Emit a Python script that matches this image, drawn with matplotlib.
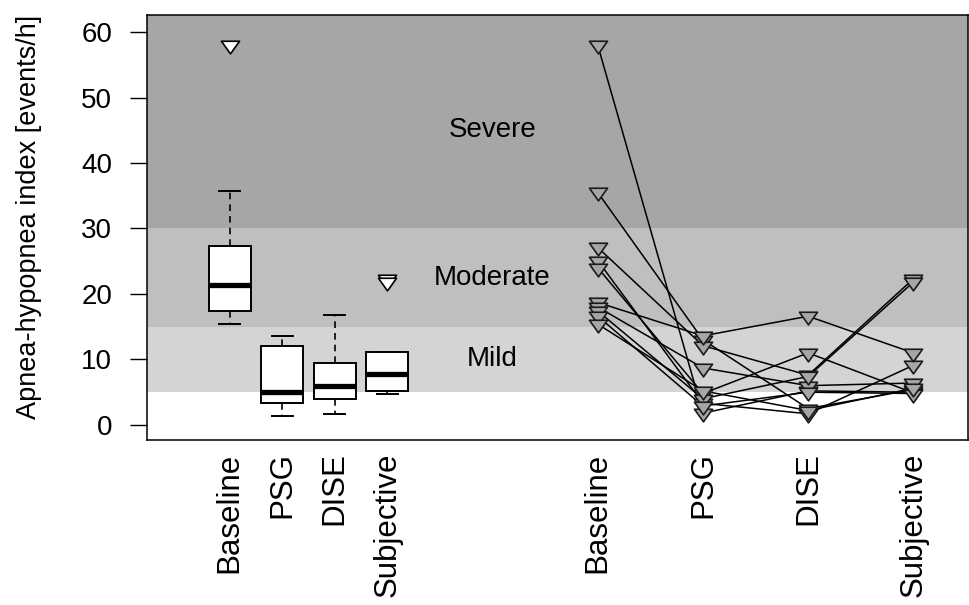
import numpy as np
import matplotlib
matplotlib.use("Agg")
from matplotlib import pyplot as plt
from matplotlib.path import Path

plt.rcParams["font.family"] = ["Liberation Sans", "DejaVu Sans"]

# groups
groups = ["Baseline", "PSG", "DISE", "Subjective"]

# five-number summaries
box_lo = [15.4, 1.3, 1.6, 4.8]
box_q1 = [17.4, 3.3, 4.0, 5.2]
box_med = [21.4, 5.0, 6.0, 7.8]
box_q3 = [27.3, 12.1, 9.4, 11.2]
box_hi = [35.7, 13.6, 16.8, 11.2]
box_out = [[58.0], [], [], [22.3, 21.8]]

# individual patients (right panel)
baseline = [58.0, 35.5, 27.1, 25.1, 24.0, 18.7, 18.0, 17.4, 16.6, 15.4]
psg = [1.8, 13.0, 12.1, 3.3, 4.8, 13.6, 8.7, 4.0, 2.9, 5.2]
dise = [5.2, 2.5, 7.6, 1.7, 11.0, 16.6, 6.0, 7.4, 5.0, 2.2]
subjective = [5.0, 5.4, 22.3, 9.1, 4.9, 11.0, 6.4, 21.8, 4.8, 5.6]

# severity bands
band_edges = [0, 5, 15, 30, 100]
band_colors = ["white", "#D4D4D4", "#BFBFBF", "#A6A6A6"]
band_names = ["Mild", "Moderate", "Severe"]
band_label_y = [10, 22.5, 45]

box_pos = [1, 2, 3, 4]
line_pos = [8, 10, 12, 14]

# down triangle with centroid at origin (like R pch 25)
tri = Path([(-1, 0.47), (1, 0.47), (0, -0.93), (-1, 0.47)],
           [Path.MOVETO, Path.LINETO, Path.LINETO, Path.CLOSEPOLY])

fig = plt.figure(figsize=(9.7, 6.05), dpi=100)
ax = fig.add_axes([147 / 970, 1 - 440 / 605, 821 / 970, 425 / 605])
ax.set_xlim(-0.57, 15.04)
ax.set_ylim(-2.3, 62.6)

for lo, hi, c in zip(band_edges[:-1], band_edges[1:], band_colors):
    ax.axhspan(lo, hi, color=c, lw=0, zorder=0)
for name, y in zip(band_names, band_label_y):
    ax.text(6, y, name, ha="center", va="center", fontsize=20, zorder=1)

stats = []
for i, g in enumerate(groups):
    stats.append(dict(label=g, whislo=box_lo[i], q1=box_q1[i], med=box_med[i],
                      q3=box_q3[i], whishi=box_hi[i], fliers=box_out[i]))
ax.bxp(stats, positions=box_pos, widths=0.8, capwidths=0.4, patch_artist=True,
       boxprops=dict(facecolor="white", edgecolor="black", lw=1.4),
       medianprops=dict(color="black", lw=3.8, solid_capstyle="butt"),
       whiskerprops=dict(color="black", lw=1.2, ls=(0, (4, 3))),
       capprops=dict(color="black", lw=1.4),
       flierprops=dict(marker=tri, markersize=13, markerfacecolor="white",
                       markeredgecolor="black", markeredgewidth=1.2),
       manage_ticks=False, zorder=3)

patients = np.column_stack([baseline, psg, dise, subjective])
for row in patients:
    ax.plot(line_pos, row, color="black", lw=1.1, zorder=3)
for row in patients:
    ax.plot(line_pos, row, ls="none", marker=tri, markersize=13,
            markerfacecolor="#A6A6A6", markeredgecolor="#1a1a1a",
            markeredgewidth=1.2, zorder=4)

ax.set_xticks(box_pos + line_pos)
ax.set_xticklabels(groups + groups, rotation=90, fontsize=22.5, va="top")
ax.tick_params(axis="x", length=0, pad=9)
ax.set_yticks([0, 10, 20, 30, 40, 50, 60])
ax.tick_params(axis="y", labelsize=20, length=12, width=1, pad=13)
ax.set_ylabel("Apnea-hypopnea index [events/h]", fontsize=19.5)
ax.yaxis.set_label_coords(-0.128, 0.525)
for s in ax.spines.values():
    s.set_linewidth(1.1)

fig.savefig("out.png", dpi=100)
